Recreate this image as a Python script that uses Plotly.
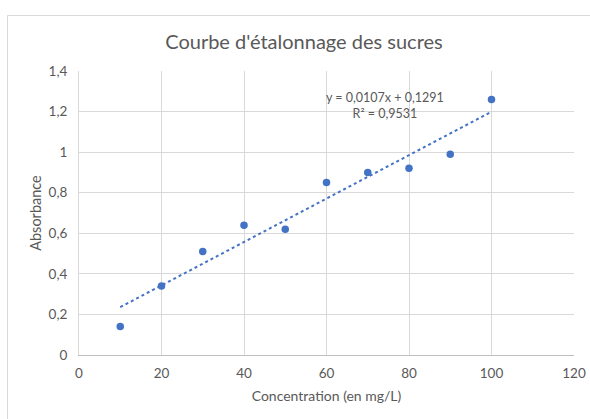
import plotly.graph_objects as go

# Calibration data: sugar concentration vs measured absorbance
concentration = [10, 20, 30, 40, 50, 60, 70, 80, 90, 100]
absorbance = [0.14, 0.34, 0.51, 0.64, 0.62, 0.85, 0.90, 0.92, 0.99, 1.26]

# Linear trendline coefficients and fit quality
slope = 0.0107
intercept = 0.1291
r_squared = 0.9531

x_ticks = [0, 20, 40, 60, 80, 100, 120]
y_ticks = [0, 0.2, 0.4, 0.6, 0.8, 1.0, 1.2, 1.4]

FONT = "Lato"
GREY = "#595959"
BLUE = "#4472C4"
GRID = "#d9d9d9"

W, H = 590, 419
L, R, T, B = 79, 16, 71, 64
pw, ph = W - L - R, H - T - B

def px_to_paper_x(px):
    return (px - L) / pw

def px_to_paper_y(py):
    return (H - B - py) / ph

fit_x = [min(concentration), max(concentration)]
fit_y = [slope * v + intercept for v in fit_x]

fig = go.Figure()
fig.add_trace(go.Scatter(
    x=fit_x, y=fit_y, mode="lines",
    line=dict(color=BLUE, width=2, dash="dot"),
    hoverinfo="skip", showlegend=False,
))
fig.add_trace(go.Scatter(
    x=concentration, y=absorbance, mode="markers",
    marker=dict(color=BLUE, size=7.5),
    showlegend=False,
))

def fmt(v, nd):
    return f"{v:.{nd}f}".replace(".", ",")

fig.add_annotation(
    x=px_to_paper_x(385), y=px_to_paper_y(88), xref="paper", yref="paper",
    text=f"y = {fmt(slope, 4)}x + {fmt(intercept, 4)}<br>R² = {fmt(r_squared, 4)}",
    showarrow=False, align="center",
    font=dict(family=FONT, size=12.5, color=GREY),
)

# Chart frame
fig.add_shape(
    type="rect", xref="paper", yref="paper", layer="below",
    x0=px_to_paper_x(7.5), x1=px_to_paper_x(W + 10),
    y0=px_to_paper_y(H + 10), y1=px_to_paper_y(15.5),
    line=dict(color=GRID, width=1), fillcolor="rgba(0,0,0,0)",
)

fig.update_layout(
    width=W, height=H,
    margin=dict(l=L, r=R, t=T, b=B, autoexpand=False),
    paper_bgcolor="white", plot_bgcolor="white",
    separators=", ",
    font=dict(family=FONT, size=12, color=GREY),
    title=dict(
        text="Courbe d'étalonnage des sucres",
        x=px_to_paper_x(304), xref="paper", xanchor="center",
        y=1 - 42 / H, yref="container", yanchor="middle",
        font=dict(family=FONT, size=20, color=GREY),
    ),
    xaxis=dict(
        range=[0, 120], tickvals=x_ticks, automargin=False,
        showgrid=True, gridcolor=GRID, gridwidth=1,
        zeroline=False, showline=True, linecolor="#bfbfbf", linewidth=1,
        ticks="", ticklabelstandoff=6,
        title=dict(text="Concentration (en mg/L)", standoff=10,
                   font=dict(family=FONT, size=14, color=GREY)),
        tickfont=dict(family=FONT, size=13.5, color=GREY),
        fixedrange=True,
    ),
    yaxis=dict(
        range=[0, 1.4], tickvals=y_ticks, automargin=False,
        showgrid=True, gridcolor=GRID, gridwidth=1,
        zeroline=False, showline=True, linecolor=GRID, linewidth=1,
        ticks="", ticklabelstandoff=8,
        title=dict(text="Absorbance", standoff=3,
                   font=dict(family=FONT, size=14.5, color=GREY)),
        tickfont=dict(family=FONT, size=13.5, color=GREY),
        fixedrange=True,
    ),
)

fig.write_html("out.html")
